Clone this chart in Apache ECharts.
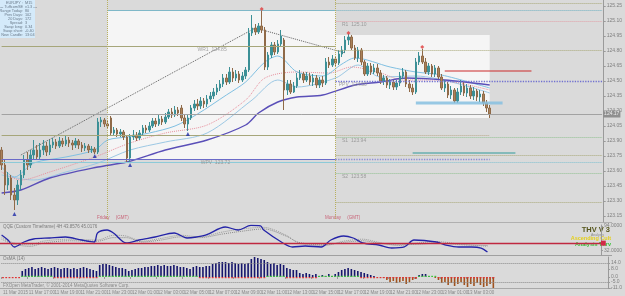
<!DOCTYPE html>
<html>
<head>
<meta charset="utf-8">
<script src="https://cdn.jsdelivr.net/npm/echarts@6/dist/echarts.min.js"></script>
<style>
  html, body { margin: 0; padding: 0; background: #dadada; }
  #chart { width: 625px; height: 296px; }
</style>
</head>
<body>
<div id="chart"></div>
<script>
// bottom time labels, one every 8 bars (M15)
const timeLabels = ['11 Mar 2015', '11 Mar 17:00', '11 Mar 19:00', '11 Mar 21:00', '11 Mar 23:00',
  '12 Mar 01:00', '12 Mar 03:00', '12 Mar 05:00', '12 Mar 07:00', '12 Mar 09:00', '12 Mar 11:00',
  '12 Mar 13:00', '12 Mar 15:00', '12 Mar 17:00', '12 Mar 19:00', '12 Mar 21:00', '12 Mar 23:00',
  '13 Mar 01:00', '13 Mar 03:00', '13 Mar 05:00']
const slotCount = 188 // bars + chart shift space on the right

// [open, close, low, high]
const candles = [
  [123.81,123.66,123.61,123.84],[123.66,123.46,123.36,123.71],[123.46,123.53,123.41,123.59],[123.53,123.36,123.31,123.56],
  [123.36,123.31,123.21,123.43],[123.31,123.46,123.26,123.51],[123.46,123.56,123.41,123.61],[123.56,123.71,123.53,123.76],
  [123.71,123.66,123.61,123.79],[123.66,123.76,123.63,123.81],[123.76,123.81,123.71,123.91],[123.81,123.74,123.71,123.86],
  [123.74,123.81,123.71,123.88],[123.81,123.85,123.76,123.91],[123.85,123.79,123.75,123.89],[123.79,123.86,123.76,123.91],
  [123.86,123.89,123.83,123.93],[123.89,123.85,123.82,123.92],[123.85,123.90,123.83,123.94],[123.90,123.87,123.84,123.93],
  [123.87,123.91,123.85,123.95],[123.91,123.88,123.84,123.94],[123.88,123.86,123.81,123.91],[123.86,123.90,123.83,123.93],
  [123.90,123.86,123.82,123.92],[123.86,123.83,123.79,123.89],[123.83,123.85,123.80,123.88],[123.85,123.81,123.78,123.87],
  [123.81,123.82,123.78,123.85],[123.82,123.79,123.77,123.84],[123.79,124.09,123.77,124.13],[124.09,124.11,124.04,124.14],
  [124.11,124.07,124.04,124.13],[124.07,124.05,124.02,124.11],[124.13,123.98,123.96,124.15],[123.98,124.01,123.95,124.04],
  [124.01,123.97,123.94,124.03],[123.97,123.99,123.94,124.02],[123.99,123.94,123.91,124.01],[123.94,123.73,123.69,123.96],
  [123.73,123.94,123.68,123.97],[123.94,123.96,123.91,124.01],[123.96,123.93,123.90,123.99],[123.93,123.98,123.91,124.01],
  [123.98,124.03,123.95,124.06],[124.03,124.01,123.98,124.06],[124.01,124.05,123.99,124.09],[124.05,124.10,124.03,124.13],
  [124.10,124.07,124.04,124.13],[124.07,124.12,124.05,124.16],[124.12,124.09,124.06,124.15],[124.09,124.14,124.07,124.18],
  [124.14,124.19,124.12,124.22],[124.19,124.16,124.13,124.23],[124.16,124.21,124.14,124.25],[124.21,124.18,124.15,124.24],
  [124.23,124.13,124.10,124.26],[124.13,124.07,124.03,124.17],[124.07,124.13,124.00,124.16],[124.13,124.23,124.11,124.26],
  [124.23,124.27,124.20,124.31],[124.27,124.25,124.21,124.32],[124.25,124.30,124.22,124.34],[124.30,124.27,124.23,124.33],
  [124.27,124.32,124.24,124.36],[124.32,124.35,124.29,124.39],[124.35,124.39,124.32,124.43],[124.39,124.43,124.36,124.47],
  [124.43,124.47,124.40,124.51],[124.47,124.53,124.44,124.57],[124.53,124.49,124.46,124.57],[124.49,124.59,124.47,124.64],
  [124.59,124.53,124.49,124.63],[124.53,124.57,124.50,124.61],[124.57,124.51,124.48,124.60],[124.51,124.55,124.49,124.59],
  [124.55,124.61,124.52,124.64],[124.61,124.98,124.59,125.03],[124.98,125.03,124.95,125.16],[125.03,124.99,124.96,125.07],
  [124.99,125.05,124.97,125.08],[125.05,125.01,124.98,125.20],[125.01,124.64,124.61,125.04],[124.64,124.76,124.61,124.79],
  [124.76,124.86,124.73,124.89],[124.86,124.79,124.76,124.89],[124.79,124.87,124.77,124.91],[124.87,124.95,124.84,125.01],
  [124.91,124.41,124.21,124.93],[124.41,124.47,124.36,124.51],[124.47,124.39,124.37,124.51],[124.39,124.45,124.38,124.49],
  [124.45,124.53,124.43,124.58],[124.53,124.57,124.51,124.61],[124.57,124.51,124.48,124.59],[124.51,124.55,124.49,124.59],
  [124.55,124.49,124.46,124.58],[124.49,124.53,124.45,124.57],[124.53,124.46,124.43,124.56],[124.46,124.51,124.43,124.54],
  [124.51,124.48,124.44,124.55],[124.48,124.69,124.46,124.73],[124.69,124.66,124.63,124.74],[124.66,124.72,124.64,124.76],
  [124.72,124.68,124.65,124.75],[124.68,124.77,124.66,124.81],[124.77,124.81,124.74,124.85],[124.81,124.91,124.78,124.95],
  [124.91,124.94,124.86,124.97],[124.94,124.83,124.81,124.96],[124.83,124.73,124.71,124.86],[124.73,124.81,124.69,124.84],
  [124.81,124.69,124.66,124.83],[124.69,124.57,124.55,124.71],[124.57,124.65,124.55,124.68],[124.65,124.59,124.56,124.68],
  [124.59,124.63,124.57,124.67],[124.63,124.58,124.55,124.67],[124.58,124.50,124.47,124.61],[124.50,124.53,124.46,124.56],
  [124.53,124.46,124.43,124.55],[124.46,124.49,124.42,124.52],[124.49,124.44,124.41,124.51],[124.44,124.48,124.41,124.51],
  [124.48,124.55,124.45,124.59],[124.55,124.59,124.52,124.63],[124.59,124.47,124.44,124.61],[124.47,124.43,124.39,124.51],
  [124.43,124.39,124.36,124.47],[124.39,124.69,124.37,124.73],[124.69,124.75,124.66,124.79],[124.75,124.69,124.67,124.82],
  [124.69,124.59,124.57,124.73],[124.59,124.65,124.56,124.68],[124.65,124.57,124.54,124.67],[124.57,124.63,124.54,124.66],
  [124.63,124.54,124.52,124.65],[124.54,124.43,124.41,124.57],[124.43,124.47,124.39,124.51],[124.47,124.36,124.33,124.49],
  [124.36,124.41,124.32,124.45],[124.41,124.30,124.28,124.43],[124.30,124.39,124.28,124.43],[124.39,124.45,124.36,124.51],
  [124.45,124.38,124.35,124.49],[124.38,124.43,124.34,124.47],[124.43,124.35,124.32,124.46],[124.35,124.40,124.31,124.44],
  [124.40,124.34,124.30,124.42],[124.34,124.37,124.29,124.41],[124.37,124.28,124.25,124.40],[124.28,124.23,124.19,124.31],
  [124.23,124.17,124.13,124.26]
]

// moving averages: [bar index, price]
const maFast = [[0,123.64],[4,123.54],[10,123.68],[20,123.74],[29,123.81],[33,123.91],[39,123.94],[46,123.98],[54,124.05],
  [61,124.17],[70,124.36],[76,124.49],[82,124.69],[86,124.75],[92,124.59],[100,124.55],[106,124.67],[110,124.73],[121,124.64],
  [129,124.59],[137,124.56],[152,124.43]]
const maMid = [[0,123.59],[6,123.51],[15,123.59],[29,123.74],[40,123.88],[51,123.98],[64,124.06],[76,124.31],[82,124.53],
  [92,124.59],[102,124.58],[109,124.64],[118,124.58],[125,124.51],[135,124.51],[152,124.41]]
const maSlow = [[0,123.56],[10,123.51],[20,123.59],[30,123.68],[40,123.81],[51,123.89],[64,123.98],[78,124.31],[86,124.51],
  [92,124.44],[104,124.53],[111,124.66],[118,124.54],[129,124.55],[152,124.38]]
const maLong = [[0,123.38],[6,123.41],[15,123.53],[30,123.64],[39,123.69],[51,123.81],[64,123.91],[76,124.06],[80,124.18],
  [86,124.29],[92,124.34],[100,124.36],[110,124.46],[118,124.49],[126,124.53],[138,124.51],[152,124.46]]

const zigzag = [[6,123.76],[79,125.03],[107,124.78]]
const highMarks = [[81,125.22],[108,124.98],[131,124.84]]
const lowMarks = [[4,123.17],[29,123.75],[40,123.66],[58,123.97]]

// pivot levels
const dayPivotNames = ['R1', 'PPV', 'S1', 'S2']
const dayPivotVals = [125.10, 124.50, 123.94, 123.58]
const weekPivotNames = ['WR1', 'WPV']
const weekPivotVals = [124.85, 123.72]
const extraLevels = [125.28, 125.21, 124.81, 123.96, 123.76, 123.69, 123.29]
const resistLine = [[138,124.60],[152,124.60],[165,124.60]]
const supportLine = [[128,123.78],[144,123.78],[160,123.78]]
const rangeLow = [[129,124.28],[156,124.28]]

const priceTicks = [123.15,123.30,123.45,123.60,123.75,123.90,124.05,124.20,124.35,124.50,124.65,124.80,124.95,125.10,125.25]

// QQE pane
const qqeLine = [[0,70.7],[2,58],[4,40.3],[7,52.9],[10,60.5],[15,63.1],[20,65.6],[25,58],[29,52.9],[30,75.7],[33,83.3],
  [35,75.7],[39,50.4],[43,58],[48,65.6],[54,75.7],[58,63.1],[61,65.6],[64,70.7],[70,90.9],[74,83.3],[78,95],[81,94],
  [82,83.3],[88,50.4],[91,40.3],[95,42.8],[100,40.3],[103,58],[107,68.1],[110,63.1],[113,50.4],[118,45.3],[122,37.7],
  [126,40.3],[129,58],[136,52.9],[139,45.3],[143,40.3],[147,40.3],[150,37.7],[152,27.6]]
const qqeSlowA = [[0,65],[4,50],[9,46],[13,55],[21,60],[30,58],[35,70],[39,68],[44,55],[50,62],[56,70],[62,66],[69,78],
  [75,86],[82,90],[89,70],[93,50],[101,44],[107,55],[113,60],[118,52],[124,44],[130,50],[136,54],[144,47],[152,42]]
const qqeSlowB = [[0,60],[4,47],[9,42],[13,50],[21,56],[30,55],[35,64],[39,64],[44,53],[50,58],[56,66],[62,64],[69,73],
  [75,80],[82,86],[89,68],[93,52],[101,46],[107,52],[113,56],[118,50],[124,46],[130,47],[136,50],[144,46],[152,44]]
const qqeLevel = 50

// histogram pane
const histVals = [0,0,0,0,0,0, 6,8,
  9,10,8,9,10,9,8,9,10,9,8,9,9,8,9,8,9,10,9,8,7,6,
  12,13,13,12,11, 10,9,9,8,6, 7,8,9,9,10,10,
  11,11,12,11,12,11,11,12,11,10,10,9,8,10,11, 10,10,11,11,
  13,14,15,15,15,14,15,14,13,14,13,14, 18,20,19,18,17, 15,13,14,12,13,12,
  9,8,7,7, 4,3,4,3,2,3, 1,2,1,3,1, 3,5,7,8,9,8,7,6, 5,4,3,2,1,0,0,-1,
  -3,-5,-4,-6,-5,-4,-7,-5,-3,-2, 2,3,3,1,0,-1,
  -3,-6,-5,-8,-6,-9,-7,-5,-8,-10,-7,-9,-6,-8,-10,-9,-7,-11]
const trendMarks = 'rrrrrrggggggggggrrrrrrrrrrrrrrgggggggggggggggggggggggggggggggrrrrrrrrrrrrrrrrrrrrrggggggrrrrrrrrrrgggggggggggggrrrrrrrrrrrrrrrrrrggggggrrrrrrrrrrrrrrrrrr'

const infoKeys = ['EURJPY :', '--- TuffcomSE', 'Range Today:', 'Prev Days:', '20 Days:', 'Spread:', 'Swap long:', 'Swap short:', 'New Candle:']
const infoVals = ['M15', 'v1.3 ---', '80', '102', '172', '3', '0.34', '-0.40', '13:04']

const FONT = 'Liberation Sans, Arial, sans-serif'
const last = slotCount - 1
const bid = candles[candles.length - 1][1]
const xCats = Array.from({ length: slotCount }, (_, i) => String(i))

function seg(price, x0, x1, color, type, width) {
  return [{ coord: [x0, price], lineStyle: { color: color, type: type, width: width || 1 } }, { coord: [x1, price] }]
}

const levelLines = [
  seg(extraLevels[0], 104, last, '#a8a878', 'dotted'),
  seg(extraLevels[1], 33, 104, '#7fb8c8', 'solid'),
  seg(extraLevels[1], 104, last, '#6fb0c0', 'dotted'),
  seg(dayPivotVals[0], 104, last, '#e0a0a8', 'dotted'),
  seg(weekPivotVals[0], 0, 104, '#a6a67a', 'solid'),
  seg(extraLevels[2], 104, last, '#a8a878', 'dotted'),
  seg(dayPivotVals[1], 104, last, '#7070d0', 'dotted', 1.3),
  seg(extraLevels[3], 0, 104, '#a6a67a', 'solid'),
  seg(extraLevels[3], 104, 152, '#b8a888', 'dotted'),
  seg(dayPivotVals[2], 104, last, '#90c090', 'dotted'),
  seg(extraLevels[4], 104, last, '#a8a878', 'dotted'),
  seg(weekPivotVals[1], 0, 104, '#6a6ac8', 'solid'),
  seg(weekPivotVals[1], 104, 152, '#8a8ad8', 'dotted', 1.3),
  seg(extraLevels[5], 0, 104, '#8ccad8', 'solid'),
  seg(extraLevels[5], 104, last, '#7ec0d0', 'dotted'),
  seg(dayPivotVals[3], 104, last, '#90c090', 'dotted'),
  seg(extraLevels[6], 104, last, '#a8a878', 'dotted'),
  [{ coord: [33, 125.31], lineStyle: { color: '#b8b060', type: 'dotted', width: 1 } }, { coord: [33, 123.11] }],
  [{ coord: [104, 125.31], lineStyle: { color: '#b8b060', type: 'dotted', width: 1 } }, { coord: [104, 123.11] }],
  [{ coord: [0, bid], lineStyle: { color: '#a2a2a2', type: 'solid', width: 1 },
     label: { show: true, position: 'end', distance: 1, formatter: bid.toFixed(2), fontSize: 5, color: '#eee',
       backgroundColor: '#8f8f8f', padding: [1, 1], fontFamily: FONT } }, { coord: [last, bid] }]
]

const levelLabels = [
  { value: [106, dayPivotVals[0]], name: dayPivotNames[0] + '  ' + dayPivotVals[0].toFixed(2) },
  { value: [105, dayPivotVals[1]], name: dayPivotNames[1] + '  ' + dayPivotVals[1].toFixed(2) },
  { value: [106, dayPivotVals[2]], name: dayPivotNames[2] + '  ' + dayPivotVals[2].toFixed(2) },
  { value: [106, dayPivotVals[3]], name: dayPivotNames[3] + '  ' + dayPivotVals[3].toFixed(2) },
  { value: [61, weekPivotVals[0]], name: weekPivotNames[0] + '  ' + weekPivotVals[0].toFixed(2) },
  { value: [62, weekPivotVals[1]], name: weekPivotNames[1] + '  ' + weekPivotVals[1].toFixed(2) }
]

const chart = echarts.init(document.getElementById('chart'))

const hiddenX = (g) => ({
  type: 'category', gridIndex: g, data: xCats, boundaryGap: true,
  axisLine: { show: false }, axisTick: { show: false }, axisLabel: { show: false }, splitLine: { show: false }
})

const rightY = (g, min, max, ticks, fmt) => ({
  type: 'value', gridIndex: g, position: 'right', min: min, max: max, scale: true,
  axisLine: { show: true, lineStyle: { color: '#9a9a9a' } },
  axisTick: { show: true, length: 2, customValues: ticks, lineStyle: { color: '#9a9a9a' } },
  axisLabel: { customValues: ticks, fontSize: 5, color: '#808080', margin: 3, fontFamily: FONT, formatter: fmt },
  splitLine: { show: false }
})

const graphics = [
  { type: 'rect', shape: { x: 0, y: 0, width: 35, height: 38 }, style: { fill: '#d4eafa' }, z: 100 },
  { type: 'line', shape: { x1: 0, y1: 222.5, x2: 612, y2: 222.5 }, style: { stroke: '#b0b0b0', lineWidth: 1 } },
  { type: 'line', shape: { x1: 0, y1: 255.5, x2: 612, y2: 255.5 }, style: { stroke: '#a0a0a0', lineWidth: 1 } },
  { type: 'line', shape: { x1: 0, y1: 288.5, x2: 612, y2: 288.5 }, style: { stroke: '#a8a8a8', lineWidth: 1 } },
  { type: 'text', x: 97, y: 215, style: { text: 'Friday     (GMT)', fontSize: 4.5, fill: '#c86478', fontFamily: FONT } },
  { type: 'text', x: 325, y: 215, style: { text: 'Monday     (GMT)', fontSize: 4.5, fill: '#c86478', fontFamily: FONT } },
  { type: 'text', x: 3, y: 224, style: { text: 'QQE (Custom Timeframe) 4H 43.8576 45.0176', fontSize: 4.5, fill: '#7a7a7a', fontFamily: FONT } },
  { type: 'text', x: 3, y: 256, style: { text: 'OsMA (14)', fontSize: 4.5, fill: '#7a7a7a', fontFamily: FONT } },
  { type: 'text', x: 3, y: 283, style: { text: 'FXOpen MetaTrader, \u00a9 2001-2014 MetaQuotes Software Corp.', fontSize: 4.5, fill: '#8a8a8a', fontFamily: FONT } },
  { type: 'text', x: 610, y: 226, style: { text: 'THV V 3', fontSize: 7.5, fontWeight: 'bold', fill: '#55561c', align: 'right', fontFamily: FONT } },
  { type: 'text', x: 604, y: 233, style: { text: 'Analysis', fontSize: 3.5, fill: '#8a8a8a', align: 'right', fontFamily: FONT } },
  { type: 'text', x: 611, y: 235.5, style: { text: 'Ascending Cult', fontSize: 5.5, fontWeight: 'bold', fill: '#e4cf1c', align: 'right', fontFamily: FONT } },
  { type: 'text', x: 611, y: 241, style: { text: 'Analysis Thrv', fontSize: 5.5, fontWeight: 'bold', fill: '#38c038', align: 'right', fontFamily: FONT } }
]
infoKeys.forEach((k, i) => {
  graphics.push({ type: 'text', x: 23, y: 0.5 + i * 4.1, z: 101, style: { text: k, fontSize: 3.8, fill: '#6a7a8a', align: 'right', fontFamily: FONT } })
  graphics.push({ type: 'text', x: 25, y: 0.5 + i * 4.1, z: 101, style: { text: infoVals[i], fontSize: 3.8, fill: '#6a7a8a', fontFamily: FONT } })
})

chart.setOption({
  animation: false,
  backgroundColor: '#dadada',
  grid: [
    { left: 0, top: 0, width: 612, height: 222 },
    { left: 0, top: 225, width: 612, height: 30 },
    { left: 0, top: 257, width: 612, height: 31 }
  ],
  xAxis: [
    hiddenX(0),
    hiddenX(1),
    {
      type: 'category', gridIndex: 2, data: xCats, boundaryGap: true,
      axisLine: { show: false },
      axisTick: { show: true, length: 2, interval: (i) => i % 8 === 0 && i < candles.length, lineStyle: { color: '#999' } },
      axisLabel: {
        interval: (i) => i % 8 === 0 && i < candles.length,
        formatter: (v, i) => timeLabels[Math.floor(i / 8)] || '',
        fontSize: 4.5, color: '#888', margin: 2, align: 'left', fontFamily: FONT
      },
      splitLine: { show: false }
    }
  ],
  yAxis: [
    rightY(0, 123.09, 125.31, priceTicks, (v) => v.toFixed(2)),
    rightY(1, 20, 96, [94, 32], (v) => v.toFixed(4)),
    rightY(2, -11, 20, [14, 8, 0, -5, -11], (v) => v.toFixed(1))
  ],
  graphic: graphics,
  series: [
    {
      // session boxes and level lines
      type: 'line', xAxisIndex: 0, yAxisIndex: 0, data: [], z: 1, silent: true,
      markArea: {
        silent: true, itemStyle: { color: '#f5f5f5' },
        data: [
          [{ coord: [33, extraLevels[1]] }, { coord: [104, 123.71] }],
          [{ coord: [104, 124.96] }, { coord: [152, 124.13] }]
        ]
      },
      markLine: { silent: true, symbol: ['none', 'none'], label: { show: false }, data: levelLines }
    },
    {
      type: 'line', name: 'zigzag', xAxisIndex: 0, yAxisIndex: 0, data: zigzag, symbol: 'none', z: 2,
      lineStyle: { color: '#606060', type: 'dotted', width: 1 }
    },
    { type: 'line', name: 'ma slow', data: maSlow, symbol: 'none', smooth: 0.3, z: 3, lineStyle: { color: '#9cc8e4', width: 1 } },
    { type: 'line', name: 'ma mid', data: maMid, symbol: 'none', smooth: 0.3, z: 3, lineStyle: { color: '#e8909e', width: 1, type: 'dotted' } },
    { type: 'line', name: 'ma fast', data: maFast, symbol: 'none', smooth: 0.3, z: 3, lineStyle: { color: '#80c0e2', width: 1 } },
    { type: 'line', name: 'ma long', data: maLong, symbol: 'none', smooth: 0.3, z: 3, lineStyle: { color: '#5a4fb8', width: 1.4 } },
    {
      type: 'candlestick', name: 'EURJPY', xAxisIndex: 0, yAxisIndex: 0, data: candles, barWidth: 2, z: 4,
      itemStyle: { color: '#3c9096', color0: '#ab8259', borderColor: '#3c9096', borderColor0: '#8f6a48', borderWidth: 1 }
    },
    {
      type: 'line', name: 'range low', data: rangeLow, symbol: 'none', z: 5,
      lineStyle: { color: '#86c0e0', width: 3, opacity: 0.85 }
    },
    {
      type: 'line', name: 'resist', data: resistLine, symbol: 'rect', symbolSize: 3, z: 5,
      lineStyle: { color: '#cc2a2a', width: 1.2 }, itemStyle: { color: '#cc2a2a' }
    },
    {
      type: 'line', name: 'support', data: supportLine, symbol: 'rect', symbolSize: 3, z: 5,
      lineStyle: { color: '#2e9a9a', width: 1.2 }, itemStyle: { color: '#2e9a9a' }
    },
    { type: 'scatter', name: 'highs', data: highMarks, symbol: 'diamond', symbolSize: 4, z: 6, itemStyle: { color: '#e03a3a' } },
    { type: 'scatter', name: 'lows', data: lowMarks, symbol: 'triangle', symbolSize: 4, z: 6, itemStyle: { color: '#1e2aa8' } },
    {
      type: 'scatter', name: 'level labels', data: levelLabels, symbolSize: 0, z: 6, silent: true,
      label: { show: true, formatter: (p) => p.name, position: [0, 1], align: 'left', verticalAlign: 'top',
        fontSize: 5, color: '#8c8c8c', fontFamily: FONT }
    },
    // QQE pane
    {
      type: 'line', name: 'qqe slow b', xAxisIndex: 1, yAxisIndex: 1, data: qqeSlowB, symbol: 'none', smooth: 0.3,
      lineStyle: { color: '#8a8a8a', type: 'dotted', width: 1 }
    },
    {
      type: 'line', name: 'qqe slow a', xAxisIndex: 1, yAxisIndex: 1, data: qqeSlowA, symbol: 'none', smooth: 0.3,
      lineStyle: { color: '#9a9a9a', type: 'dotted', width: 1 },
      markLine: {
        silent: true, symbol: ['none', 'none'],
        lineStyle: { color: '#c02840', width: 1.4, type: 'solid' },
        label: { show: true, position: 'end', distance: 0, formatter: ' ', backgroundColor: '#d22a48', padding: [1, 2], fontSize: 3 },
        data: [{ yAxis: qqeLevel }]
      }
    },
    {
      type: 'line', name: 'qqe', xAxisIndex: 1, yAxisIndex: 1, data: qqeLine, symbol: 'none', smooth: 0.3, z: 4,
      lineStyle: { color: '#2424a8', width: 1.3 }
    },
    // histogram pane
    {
      type: 'bar', name: 'osma', xAxisIndex: 2, yAxisIndex: 2, data: histVals, barWidth: 1.6,
      itemStyle: { color: (p) => (p.value > 0 ? '#16166c' : '#a0531f') },
      markLine: {
        silent: true, symbol: ['none', 'none'], label: { show: false },
        lineStyle: { color: '#8a8a8a', type: 'dotted', width: 1 },
        data: [{ yAxis: 14 }, { yAxis: -5 }]
      }
    },
    {
      type: 'bar', name: 'trend', xAxisIndex: 2, yAxisIndex: 2, barWidth: 1.8, barGap: '-100%', z: 3,
      data: trendMarks.split('').map((c) => ({
        value: c === 'g' ? 1.2 : -1.2,
        itemStyle: { color: c === 'g' ? '#3cc83c' : '#e03434' }
      }))
    }
  ]
})
</script>
</body>
</html>
